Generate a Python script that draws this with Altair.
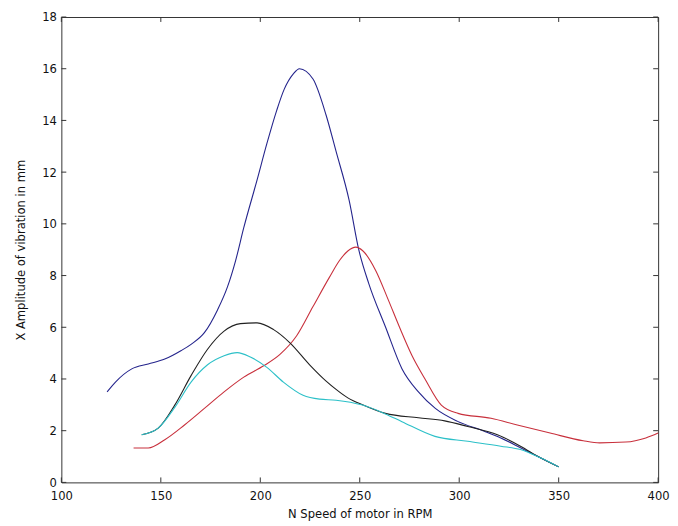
import altair as alt
import pandas as pd

blue_x = [123, 127.2, 135.4, 143.7, 152, 160.3, 165.2, 171.9, 178.5, 183.5, 187.6, 191.7, 198.4, 203.3, 208.3, 212, 216.6, 219.7, 226.5, 233.1, 238.1, 244.7, 249.5, 254.5, 263, 271.2, 279.5, 288, 299.2, 312.6, 320.9, 330.8, 340.8, 350]
blue_y = [3.5, 3.88, 4.39, 4.58, 4.77, 5.1, 5.34, 5.79, 6.67, 7.56, 8.58, 9.85, 11.7, 13.1, 14.4, 15.2, 15.8, 16.0, 15.6, 14.2, 12.8, 10.9, 9.0, 7.7, 6.0, 4.4, 3.5, 2.86, 2.36, 1.98, 1.72, 1.34, 0.95, 0.6]

red_x = [136.3, 143.7, 152, 161.9, 171.9, 181.8, 191.7, 201.7, 209.9, 218.2, 226.5, 234.8, 240, 244, 248, 251.5, 258, 264.4, 270, 276.3, 282.8, 291, 299.4, 316, 329.2, 345.7, 362.3, 370.6, 383.7, 393.8, 400]
red_y = [1.33, 1.33, 1.65, 2.22, 2.86, 3.5, 4.07, 4.51, 4.95, 5.66, 6.8, 7.94, 8.6, 8.95, 9.1, 8.96, 8.2, 7.05, 6.0, 4.9, 4.0, 2.99, 2.67, 2.48, 2.22, 1.91, 1.61, 1.53, 1.56, 1.72, 1.91]

black_x = [140.4, 148.7, 157, 165.2, 173.5, 181.8, 190, 198.4, 206.7, 214.9, 224.8, 233.1, 238.1, 244, 251.4, 262.9, 279.5, 292.7, 304.3, 319.2, 330.8, 340.8, 350]
black_y = [1.84, 2.1, 2.99, 4.13, 5.15, 5.85, 6.14, 6.17, 5.91, 5.4, 4.55, 3.92, 3.6, 3.27, 3.0, 2.67, 2.5, 2.38, 2.16, 1.84, 1.4, 0.95, 0.6]

cyan_x = [140.4, 148.7, 157, 165.2, 173.5, 181.8, 188.4, 195, 203.3, 211.6, 221.5, 229.8, 238.1, 251.4, 262.9, 271.2, 287.8, 304.3, 320.9, 330.8, 340.8, 350]
cyan_y = [1.84, 2.1, 2.9, 3.88, 4.55, 4.9, 5.02, 4.85, 4.45, 3.88, 3.37, 3.22, 3.18, 2.99, 2.65, 2.35, 1.78, 1.59, 1.4, 1.27, 0.95, 0.6]

series_names = ["blue", "red", "black", "cyan"]
series_colors = ["#24248c", "#c8303c", "#202020", "#2cc0c8"]

x_ticks = [100, 150, 200, 250, 300, 350, 400]
y_ticks = [0, 2, 4, 6, 8, 10, 12, 14, 16, 18]

rows = []
for name, xs, ys in [("blue", blue_x, blue_y), ("red", red_x, red_y),
                     ("black", black_x, black_y), ("cyan", cyan_x, cyan_y)]:
    for i, (a, b) in enumerate(zip(xs, ys)):
        rows.append({"s": name, "x": a, "y": b, "o": i})
df = pd.DataFrame(rows)

W, H = 604, 471
FONT = "Liberation Sans Narrow, DejaVu Sans Condensed, Liberation Sans"
axis_style = dict(labelFont=FONT, titleFont=FONT, labelFontSize=13, titleFontSize=13,
                  labelColor="#111111", titleColor="#111111", titleFontWeight="normal",
                  tickSize=0, grid=False, domain=False, labelFlush=False)

xs = alt.Scale(domain=[100, 400], nice=False, zero=False)
ys = alt.Scale(domain=[0, 18], nice=False, zero=False)

lines = alt.Chart(df).mark_line(strokeWidth=1.1, interpolate="monotone").encode(
    x=alt.X("x:Q", scale=xs, title="N Speed of motor in RPM",
            axis=alt.Axis(values=x_ticks, labelPadding=7, titlePadding=6, **axis_style)),
    y=alt.Y("y:Q", scale=ys, title="X Amplitude of vibration in mm",
            axis=alt.Axis(values=y_ticks, labelPadding=5, titlePadding=14, **axis_style)),
    color=alt.Color("s:N", scale=alt.Scale(domain=series_names, range=series_colors), legend=None),
    order="o:Q",
    detail="s:N",
)

xt = pd.DataFrame({"v": x_ticks})
yt = pd.DataFrame({"v": y_ticks})
tick_style = dict(color="#333333", strokeWidth=1)
xb = alt.Chart(xt).mark_rule(**tick_style).encode(x=alt.X("v:Q", scale=xs), y=alt.value(H), y2=alt.value(H - 5))
xtop = alt.Chart(xt).mark_rule(**tick_style).encode(x=alt.X("v:Q", scale=xs), y=alt.value(0), y2=alt.value(5))
yl = alt.Chart(yt).mark_rule(**tick_style).encode(y=alt.Y("v:Q", scale=ys), x=alt.value(0), x2=alt.value(5))
yr = alt.Chart(yt).mark_rule(**tick_style).encode(y=alt.Y("v:Q", scale=ys), x=alt.value(W), x2=alt.value(W - 5))

chart = alt.layer(lines, xb, xtop, yl, yr).properties(
    width=W, height=H,
    background="white",
    autosize=alt.AutoSizeParams(type="none"),
    padding={"left": 54, "top": 6, "right": 12, "bottom": 40},
).configure_view(stroke="#333333", strokeWidth=1)

chart.save("out.html", embed_options={"renderer": "svg", "actions": False})
